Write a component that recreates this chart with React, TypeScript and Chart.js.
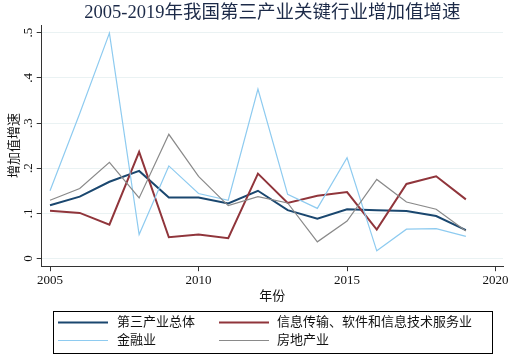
import React, { useEffect, useRef } from "react";
import { Chart, registerables } from "chart.js";

Chart.register(...registerables);

const years = [2005, 2006, 2007, 2008, 2009, 2010, 2011, 2012, 2013, 2014, 2015, 2016, 2017, 2018, 2019];
const totalTertiary = [0.118, 0.137, 0.170, 0.194, 0.135, 0.135, 0.122, 0.150, 0.107, 0.088, 0.109, 0.107, 0.105, 0.094, 0.063];
const infoSoftware = [0.106, 0.101, 0.075, 0.236, 0.047, 0.053, 0.045, 0.188, 0.123, 0.139, 0.147, 0.064, 0.165, 0.182, 0.131];
const finance = [0.150, 0.321, 0.499, 0.053, 0.205, 0.144, 0.129, 0.375, 0.142, 0.111, 0.223, 0.017, 0.065, 0.066, 0.049];
const realEstate = [0.129, 0.155, 0.213, 0.134, 0.275, 0.182, 0.117, 0.137, 0.123, 0.037, 0.083, 0.175, 0.125, 0.109, 0.061];

const seriesNames = ["第三产业总体", "信息传输、软件和信息技术服务业", "金融业", "房地产业"];
const xTickValues = [2005, 2010, 2015, 2020];
const yTickValues = [0, 0.1, 0.2, 0.3, 0.4, 0.5];
const yTickLabels = ["0", ".1", ".2", ".3", ".4", ".5"];

const titleText = "2005-2019年我国第三产业关键行业增加值增速";
const xTitle = "年份";
const yTitle = "增加值增速";

const FONT = "'Liberation Serif', 'Times New Roman', 'Noto Sans CJK SC', serif";
const colors = ["#1a476f", "#90353b", "#8ecbf0", "#8a8a8a"];
const widths = [2, 2, 1.2, 1.2];

const titlePlugin = {
  id: "plotTitle",
  afterDraw(chart: any) {
    const ctx = chart.ctx;
    const a = chart.chartArea;
    ctx.save();
    ctx.font = `18.5px ${FONT}`;
    ctx.fillStyle = "#1c2a48";
    ctx.textAlign = "center";
    ctx.textBaseline = "middle";
    ctx.fillText(titleText, (a.left + a.right) / 2, 13);
    ctx.restore();
  },
};

const legendPlugin = {
  id: "boxLegend",
  afterDraw(chart: any) {
    const ctx = chart.ctx;
    ctx.save();
    ctx.strokeStyle = "#000";
    ctx.lineWidth = 1;
    ctx.strokeRect(53.5, 311.5, 439, 42);
    const cols = [{ lx: 58, tx: 117 }, { lx: 219, tx: 277 }];
    const rows = [322.5, 340.5];
    ctx.font = `13px ${FONT}`;
    ctx.textBaseline = "middle";
    ctx.textAlign = "left";
    chart.data.datasets.forEach((ds: any, i: number) => {
      const c = cols[i % 2];
      const y = rows[Math.floor(i / 2)];
      ctx.strokeStyle = ds.borderColor;
      ctx.lineWidth = ds.borderWidth;
      ctx.beginPath();
      ctx.moveTo(c.lx, y);
      ctx.lineTo(c.lx + 50, y);
      ctx.stroke();
      ctx.fillStyle = "#111";
      ctx.fillText(ds.label, c.tx, y + 0.5);
    });
    ctx.restore();
  },
};

export default function App() {
  const ref = useRef<HTMLCanvasElement>(null);
  useEffect(() => {
    document.body.style.margin = "0";
    const mk = (vals: number[]) => years.map((y, i) => ({ x: y, y: vals[i] }));
    const all = [totalTertiary, infoSoftware, finance, realEstate];
    const chart = new Chart(ref.current as HTMLCanvasElement, {
      type: "line",
      data: {
        datasets: all.map((vals, i) => ({
          label: seriesNames[i],
          data: mk(vals),
          borderColor: colors[i],
          backgroundColor: colors[i],
          borderWidth: widths[i],
          pointRadius: 0,
          tension: 0,
          fill: false,
          order: 4 - i,
        })),
      },
      options: {
        responsive: false,
        animation: false,
        layout: { padding: { top: 25, right: 15, bottom: 60, left: 0 } },
        plugins: {
          legend: { display: false },
          tooltip: { enabled: false },
          title: { display: false },
        },
        scales: {
          x: {
            type: "linear",
            min: 2004.72,
            max: 2020.25,
            afterBuildTicks: (s: any) => {
              s.ticks = xTickValues.map((v) => ({ value: v }));
            },
            afterFit: (s: any) => {
              s.height = 37.8;
            },
            ticks: {
              color: "#111",
              font: { family: FONT, size: 13 },
              padding: 2,
              maxRotation: 0,
              callback: (v: any) => String(v),
            },
            grid: { display: true, drawOnChartArea: false, tickLength: 5, color: "#333", tickColor: "#333" },
            border: { display: true, color: "#333", width: 1 },
            title: {
              display: true,
              text: xTitle,
              color: "#111",
              font: { family: FONT, size: 13 },
              padding: { top: 0, bottom: 0 },
            },
          },
          y: {
            type: "linear",
            min: -0.017,
            max: 0.517,
            afterBuildTicks: (s: any) => {
              s.ticks = yTickValues.map((v) => ({ value: v }));
            },
            afterFit: (s: any) => {
              s.width = 41.7;
            },
            ticks: {
              color: "#111",
              font: { family: FONT, size: 13 },
              padding: 3,
              minRotation: 90,
              maxRotation: 90,
              crossAlign: "center",
              callback: (v: any, i: number) => yTickLabels[i],
            },
            grid: { display: true, color: "#eaf2f3", tickColor: "#333", tickLength: 5, lineWidth: 1 },
            border: { display: true, color: "#333", width: 1 },
            title: {
              display: true,
              text: yTitle,
              color: "#111",
              font: { family: FONT, size: 13 },
              padding: { top: 7, bottom: 0 },
            },
          },
        },
      },
      plugins: [titlePlugin, legendPlugin],
    } as any);
    return () => chart.destroy();
  }, []);
  return <canvas ref={ref} width={518} height={364} style={{ display: "block" }} />;
}
